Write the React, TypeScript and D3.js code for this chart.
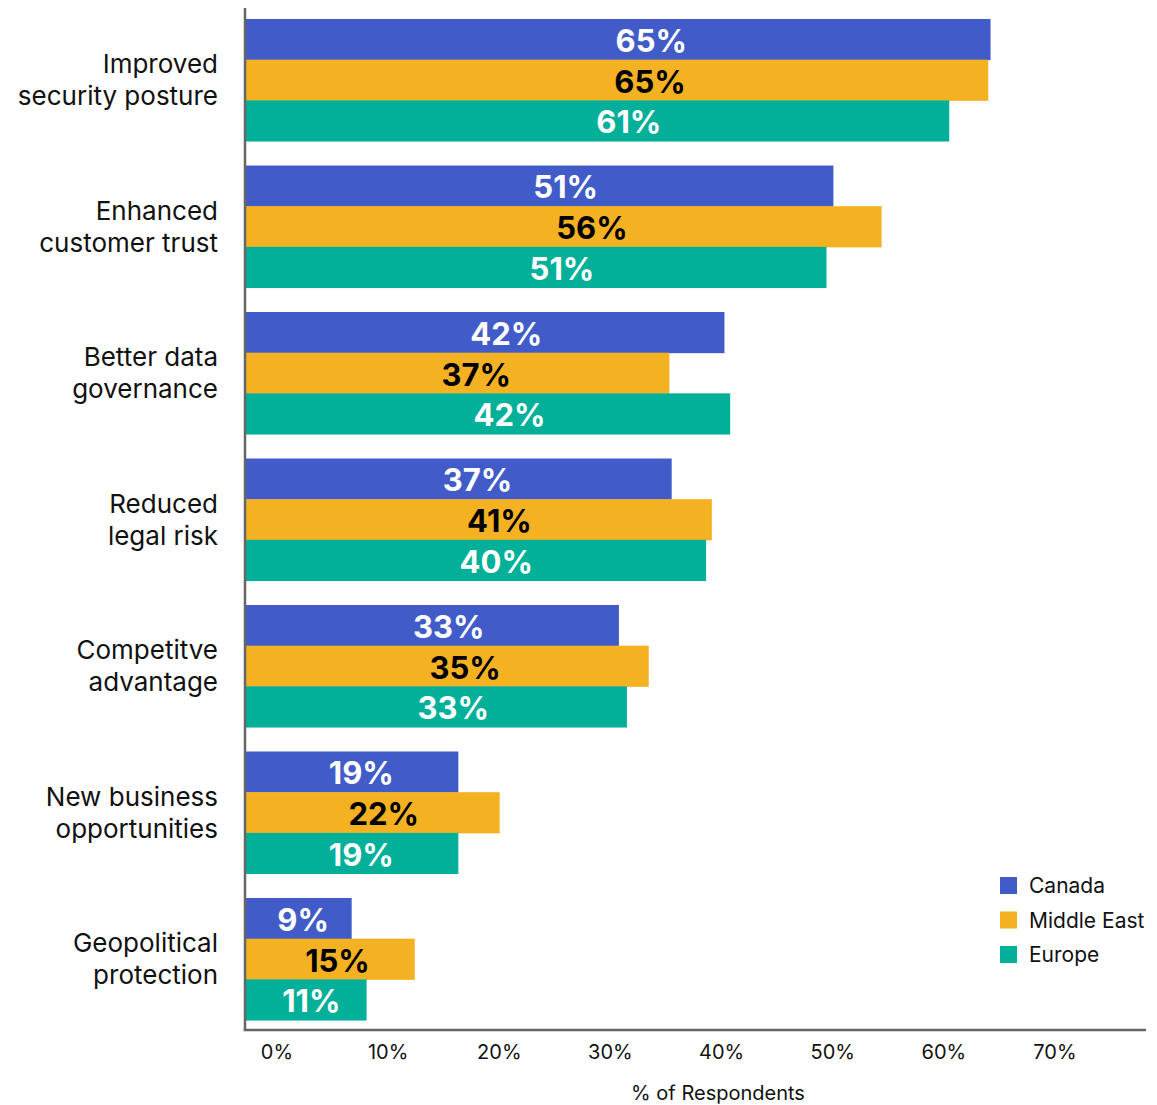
import React from "react";
import * as d3 from "d3";

const categories = [
  ["Improved", "security posture"],
  ["Enhanced", "customer trust"],
  ["Better data", "governance"],
  ["Reduced", "legal risk"],
  ["Competitve", "advantage"],
  ["New business", "opportunities"],
  ["Geopolitical", "protection"],
];
const seriesNames = ["Canada", "Middle East", "Europe"];
const canada = [65.0, 51.3, 41.8, 37.2, 32.6, 18.6, 9.3];
const middleEast = [64.8, 55.5, 37.0, 40.7, 35.2, 22.2, 14.8];
const europe = [61.4, 50.7, 42.3, 40.2, 33.3, 18.6, 10.6];
const seriesValues = [canada, middleEast, europe];
const tickValues = [0, 10, 20, 30, 40, 50, 60, 70];
const colors = ["#415cc8", "#f4b223", "#02b09a"];
const labelColors = ["#ffffff", "#000000", "#ffffff"];

export default function App() {
  const W = 1157;
  const H = 1105;
  const x0 = 245;
  const x = d3.scaleLinear().domain([0, 70]).range([x0, x0 + 70 * 11.47]);
  const xTick = d3.scaleLinear().domain([0, 70]).range([277, 1055]);
  const keys = categories.map((c) => c.join(" "));
  const y = d3
    .scaleBand<string>()
    .domain(keys)
    .range([6.77, 6.77 + 7 * 146.5])
    .paddingInner(0.167)
    .paddingOuter(0.0835);
  const yInner = d3
    .scaleBand<string>()
    .domain(seriesNames)
    .range([0, y.bandwidth()]);
  const font = "Inter, 'Noto Sans', sans-serif";

  return (
    <svg
      width={W}
      height={H}
      style={{ position: "absolute", left: 0, top: 0 }}
      fontFamily={font}
    >
      <rect width={W} height={H} fill="#fff" />
      {keys.map((k, ci) => (
        <g key={k}>
          {seriesNames.map((s, si) => {
            const v = seriesValues[si][ci];
            const by = (y(k) as number) + (yInner(s) as number);
            const bh = yInner.bandwidth();
            return (
              <g key={s}>
                <rect
                  x={x(0)}
                  y={by}
                  width={x(v) - x(0)}
                  height={bh + 0.5}
                  fill={colors[si]}
                />
                <text
                  x={x(0) + 0.545 * (x(v) - x(0))}
                  y={by + bh / 2 + 1}
                  textAnchor="middle"
                  dominantBaseline="central"
                  fontSize={31}
                  fontWeight={700}
                  fill={labelColors[si]}
                >
                  {Math.round(v)}%
                </text>
              </g>
            );
          })}
          <text
            x={218}
            y={(y(k) as number) + y.bandwidth() / 2}
            textAnchor="end"
            fontSize={26}
            fill="#111"
          >
            <tspan x={218} dy={-7}>
              {categories[ci][0]}
            </tspan>
            <tspan x={218} dy={32}>
              {categories[ci][1]}
            </tspan>
          </text>
        </g>
      ))}
      <line x1={x0} x2={x0} y1={8} y2={1031} stroke="#666" strokeWidth={2.5} />
      <line x1={x0 - 1.25} x2={1146} y1={1030} y2={1030} stroke="#666" strokeWidth={2.5} />
      {tickValues.map((t) => (
        <text
          key={t}
          x={xTick(t)}
          y={1059}
          textAnchor="middle"
          fontSize={20}
          fill="#111"
        >
          {t}%
        </text>
      ))}
      <text x={718} y={1100} textAnchor="middle" fontSize={20} fill="#111">
        % of Respondents
      </text>
      {seriesNames.map((s, i) => (
        <g key={s} transform={`translate(1000, ${877 + i * 34.5})`}>
          <rect width={17} height={17} fill={colors[i]} />
          <text x={29} y={8.5} dominantBaseline="central" fontSize={21} fill="#111">
            {s}
          </text>
        </g>
      ))}
    </svg>
  );
}
